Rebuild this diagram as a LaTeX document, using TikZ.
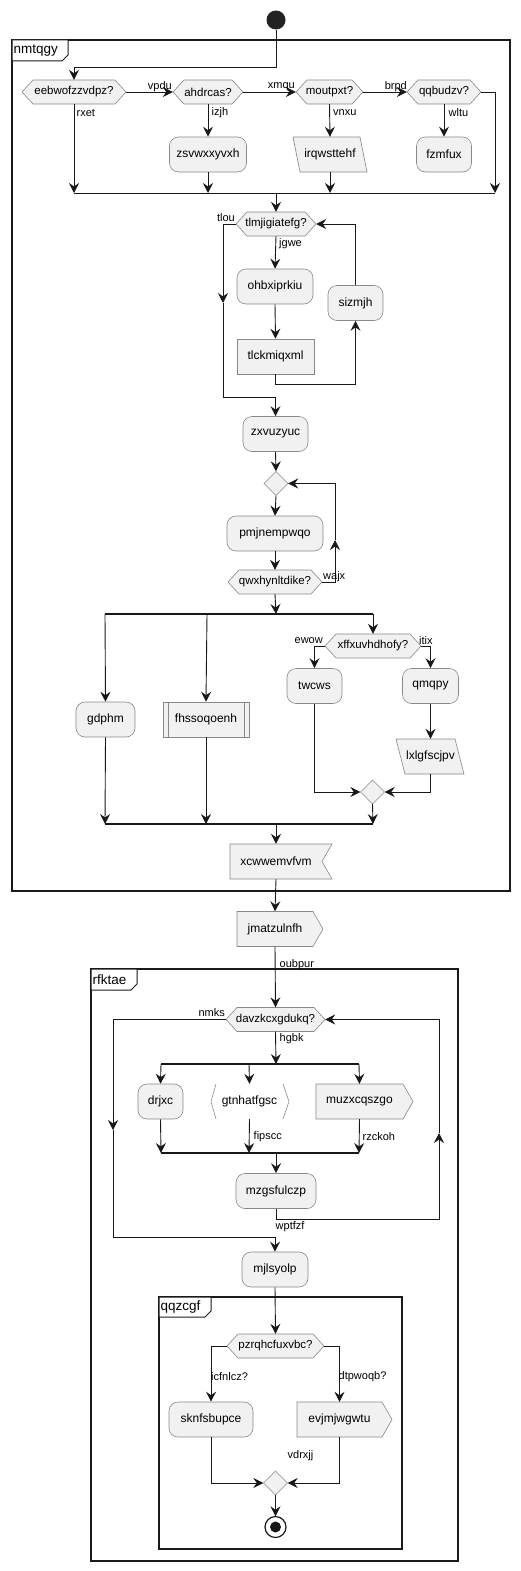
\documentclass[tikz,border=0pt]{standalone}
\usepackage{fontspec}
\setmainfont{Liberation Sans}
\usetikzlibrary{arrows.meta}
\definecolor{nfill}{HTML}{F1F1F1}
\definecolor{nline}{HTML}{888888}
\definecolor{lline}{HTML}{181818}
\definecolor{fline}{HTML}{1A1A1A}
\tikzset{
 every node/.style={font=\fontsize{11}{13}\selectfont, inner sep=0pt},
 atext/.style={font=\fontsize{12}{14}\selectfont},
 dtext/.style={font=\fontsize{11.5}{13}\selectfont},
 act/.style={atext, draw=nline, fill=nfill, rounded corners=9pt, minimum height=35pt, line width=0.6pt},
 boxn/.style={atext, draw=nline, fill=nfill, minimum height=35pt, line width=0.6pt},
 shp/.style={draw=nline, fill=nfill, line width=0.6pt},
 conn/.style={draw=lline, line width=0.9pt},
 arr/.style={conn, -{Stealth[length=10pt,width=10pt,inset=3.5pt]}},
 bar/.style={draw=lline, line width=2.5pt},
 lbl/.style={font=\fontsize{11}{13}\selectfont},
 frm/.style={draw=fline, line width=1.6pt},
 tabst/.style={draw=fline, fill=white, line width=1pt},
 ftitle/.style={font=\fontsize{13.5}{15}\selectfont, anchor=west},
}
\newcommand\hexd[5]{%
 \path[shp] ({#2-#4},#3) -- ({#2-#4+11},{#3-12}) -- ({#2+#4-11},{#3-12}) -- ({#2+#4},#3) -- ({#2+#4-11},{#3+12}) -- ({#2-#4+11},{#3+12}) -- cycle;
 \node[dtext, minimum width={2*#4}, minimum height=24] (#1) at (#2,#3) {#5};}
\newcommand\dmd[3]{%
 \path[shp] ({#2-12},#3) -- (#2,{#3-12}) -- ({#2+12},#3) -- (#2,{#3+12}) -- cycle;
 \node[minimum width=24, minimum height=24] (#1) at (#2,#3) {};}
% name, left, right, cy, depth, text
\newcommand\sendn[6]{%
 \path[shp] (#2,{#4-17.5}) -- ({#3-#5},{#4-17.5}) -- (#3,#4) -- ({#3-#5},{#4+17.5}) -- (#2,{#4+17.5}) -- cycle;
 \node[atext, minimum width={#3-#5-#2}, minimum height=35] (#1) at ({(#2+#3-#5)/2},#4) {#6};}
\begin{document}
\begin{tikzpicture}[x=1pt,y=-1pt]
\useasboundingbox (0,0) rectangle (520,1571);
% ---------- frame nmtqgy
\draw[frm] (12,40) rectangle (510,891);
\path[tabst] (12,40) -- (68,40) -- (68,55) -- (62,61) -- (12,61) -- cycle;
\node[ftitle] (t1) at (13.5,50.5) {nmtqgy};
% ---------- frame rfktae
\draw[frm] (91,969) rectangle (458,1561);
\path[tabst] (91,969) -- (137,969) -- (137,984) -- (131,990) -- (91,990) -- cycle;
\node[ftitle] (t2) at (92.5,979.5) {rfktae};
% ---------- frame qqzcgf
\draw[frm] (159,1297) rectangle (402,1549);
\path[tabst] (159,1297) -- (211,1297) -- (211,1311) -- (205,1317) -- (159,1317) -- cycle;
\node[ftitle] (t3) at (160.5,1307) {qqzcgf};

% ---------- nodes
\fill[fill={rgb,255:red,34;green,34;blue,34}] (276,20) circle (9.5);
\node[minimum size=19, circle] (start) at (276,20) {};

\hexd{d1}{74}{92}{52}{eebwofzzvdpz?}
\hexd{d2}{208}{92}{35}{ahdrcas?}
\hexd{d3}{329.5}{92}{33.5}{moutpxt?}
\hexd{d4}{444}{92}{37}{qqbudzv?}
\node[act, minimum width=77] (z1) at (208,154.5) {zsvwxxyvxh};
\path[shp] (293,137) -- (360,137) -- (367,172) -- (300,172) -- cycle;
\node[atext, minimum width=60, minimum height=35] (p1) at (330,154.5) {irqwsttehf};
\node[act, minimum width=55] (fz) at (444,154.5) {fzmfux};

\hexd{d5}{276}{224}{40}{tlmjigiatefg?}
\node[act, minimum width=76] (ob) at (275,286.5) {ohbxiprkiu};
\node[boxn, minimum width=77] (tl) at (275.5,356.5) {tlckmiqxml};
\node[act, minimum width=55] (sz) at (355.5,303) {sizmjh};
\node[act, minimum width=65] (zx) at (275.5,434) {zxvuzyuc};
\dmd{dm1}{276}{483.5}
\node[act, minimum width=96] (pm) at (275,533.5) {pmjnempwqo};
\hexd{d6}{275}{582}{47}{qwxhynltdike?}

\hexd{d7}{373}{646}{48}{xffxuvhdhofy?}
\node[act, minimum width=55] (tw) at (314.5,686) {twcws};
\node[act, minimum width=56] (qm) at (430.5,686) {qmqpy};
\path[shp] (396,739) -- (455,739) -- (464,774) -- (405,774) -- cycle;
\node[atext, minimum width=55, minimum height=35] (lx) at (430.5,756.5) {lxlgfscjpv};
\dmd{dm2}{372.5}{792}
\node[act, minimum width=59] (gd) at (105.5,719.5) {gdphm};
\node[boxn, minimum width=86] (fh) at (206,719.5) {fhssoqoenh};
\draw[nline, line width=0.6pt] (168,702) -- (168,737) (244,702) -- (244,737);
\path[shp] (230,844) -- (332,844) -- (322,861.5) -- (332,879) -- (230,879) -- cycle;
\node[atext, minimum width=80, minimum height=35] (xc) at (276,861.5) {xcwwemvfvm};

\sendn{jm}{237}{323}{929}{10}{jmatzulnfh}
\hexd{d8}{275.5}{1019.5}{49.5}{davzkcxgdukq?}
\node[act, minimum width=45] (dr) at (160.5,1101.5) {drjxc};
\draw[nline, line width=0.6pt] (216,1084) -- (211,1101.5) -- (216,1119) (283,1084) -- (289,1101.5) -- (283,1119);
\node[atext, minimum width=66, minimum height=35] (gt) at (249.5,1101.5) {gtnhatfgsc};
\sendn{mu}{316}{413}{1101.5}{10}{muzxcqszgo}
\node[act, minimum width=80] (mz) at (276,1191) {mzgsfulczp};
\node[act, minimum width=66] (mj) at (275,1269.5) {mjlsyolp};
\hexd{d9}{275.5}{1346}{48.5}{pzrqhcfuxvbc?}
\node[act, minimum width=84] (sk) at (211,1419.5) {sknfsbupce};
\sendn{ev}{297}{392}{1419.5}{10}{evjmjwgwtu}
\dmd{dm3}{275.5}{1483}
\draw[lline, line width=1.2pt, fill=white] (275.5,1527) circle (10.5);
\fill[lline] (275.5,1527) circle (5.5);
\node[minimum size=21, circle] (end) at (275.5,1527) {};

% ---------- connectors: top if chain
\draw[arr] (start.south) -- ++(0,38) -| (d1.north);
\coordinate (m1) at (276,193);
\coordinate (m1r) at (495,193);
\draw[conn] (d1.south |- m1) -- (m1r);
\draw[arr] (d1.south) -- (d1.south |- m1);
\draw[arr] (d1.east) -- (d2.west);
\draw[arr] (d2.east) -- (d3.west);
\draw[arr] (d3.east) -- (d4.west);
\draw[arr] (d2.south) -- (z1.north);
\draw[arr] (z1.south) -- (z1.south |- m1);
\draw[arr] (d3.south) -- (p1.north);
\draw[arr] (p1.south) -- (p1.south |- m1);
\draw[arr] (d4.south) -- (fz.north);
\draw[arr] (d4.east) -| (m1r);
\node[lbl, anchor=west] (lrxet) at (76.5,113) {rxet};
\node[lbl, anchor=east] (lvpdu) at (172,87) {vpdu};
\node[lbl, anchor=east] (lxmqu) at (295,87) {xmqu};
\node[lbl, anchor=east] (lbrpd) at (407,87) {brpd};
\node[lbl, anchor=west] (lizjh) at (211.5,113) {izjh};
\node[lbl, anchor=west] (lvnxu) at (333,113) {vnxu};
\node[lbl, anchor=west] (lwltu) at (448.5,113) {wltu};

% ---------- while loop 1
\draw[arr] (m1) -- (d5.north);
\draw[arr] (d5.south) -- (ob.north);
\draw[arr] (ob.south) -- (tl.north);
\draw[arr] (tl.south) -- ++(0,10) -| (sz.south);
\draw[arr] (sz.north) |- (d5.east);
\coordinate (l1) at (223,303);
\coordinate (l1b) at (223,397);
\draw[arr] (d5.west) -| (l1);
\draw[arr] (l1) -- (l1b) -| (zx.north);
\node[lbl, anchor=east] (ltlou) at (235,218) {tlou};
\node[lbl, anchor=west] (ljgwe) at (279,244) {jgwe};

% ---------- repeat loop
\draw[arr] (zx.south) -- (dm1.north);
\draw[arr] (dm1.south) -- (pm.north);
\draw[arr] (pm.south) -- (d6.north);
\coordinate (l2) at (335,540);
\draw[arr] (d6.east) -| (l2);
\draw[arr] (l2) |- (dm1.east);
\node[lbl, anchor=west] (lwajx) at (323,577) {wajx};

% ---------- fork
\coordinate (f1) at (276,614);
\coordinate (f1l) at (105,614);
\coordinate (f1m) at (207,614);
\coordinate (f1r) at (373,614);
\draw[arr] (d6.south) -- (f1);
\draw[bar] (f1l) -- (f1r);
\draw[arr] (f1l) -- (gd.north);
\draw[arr] (f1m) -- (fh.north);
\draw[arr] (f1r) -- (d7.north);
\draw[arr] (d7.west) -| (tw.north);
\draw[arr] (d7.east) -| (qm.north);
\node[lbl, anchor=east] (lewow) at (323,641) {ewow};
\node[lbl, anchor=west] (litix) at (419,641) {itix};
\draw[arr] (qm.south) -- (lx.north);
\draw[arr] (tw.south) |- (dm2.west);
\draw[arr] (lx.south) |- (dm2.east);
\coordinate (j1) at (276,824);
\coordinate (j1l) at (105,824);
\coordinate (j1r) at (373,824);
\draw[bar] (j1l) -- (j1r);
\draw[arr] (dm2.south) -- (j1r);
\draw[arr] (gd.south) -- (j1l);
\draw[arr] (fh.south) -- (fh.south |- j1);
\draw[arr] (j1) -- (xc.north);
\draw[arr] (xc.south) -- (jm.north);

% ---------- rfktae
\draw[arr] (jm.south) -- (d8.north);
\node[lbl, anchor=west] (loubpur) at (279.5,965) {oubpur};
\coordinate (f2) at (276,1064);
\coordinate (f2l) at (161,1064);
\coordinate (f2m) at (249,1064);
\coordinate (f2r) at (359,1064);
\draw[arr] (d8.south) -- (f2);
\node[lbl, anchor=west] (lhgbk) at (279.5,1039) {hgbk};
\draw[bar] (f2l) -- (f2r);
\draw[arr] (f2l) -- (dr.north);
\draw[arr] (f2m) -- (gt.north);
\draw[arr] (f2r) -- (mu.north);
\coordinate (j2) at (276,1153);
\coordinate (j2l) at (161,1153);
\coordinate (j2m) at (249,1153);
\coordinate (j2r) at (359,1153);
\draw[bar] (j2l) -- (j2r);
\draw[arr] (dr.south) -- (j2l);
\draw[arr] (gt.south) -- (j2m);
\draw[arr] (mu.south) -- (j2r);
\node[lbl, anchor=west] (lfipscc) at (253.5,1137) {fipscc};
\node[lbl, anchor=west] (lrzckoh) at (362.5,1137) {rzckoh};
\draw[arr] (j2) -- (mz.north);
\coordinate (l3) at (439,1133);
\draw[arr] (mz.south) -- ++(0,11) -| (l3);
\draw[arr] (l3) |- (d8.east);
\coordinate (l4) at (113,1130);
\coordinate (l4b) at (113,1237);
\draw[arr] (d8.west) -| (l4);
\draw[arr] (l4) -- (l4b) -| (mj.north);
\node[lbl, anchor=east] (lnmks) at (225,1013) {nmks};
\node[lbl, anchor=west] (lwptfzf) at (275.5,1227) {wptfzf};

% ---------- qqzcgf
\draw[arr] (mj.south) -- (d9.north);
\draw[arr] (d9.west) -| (sk.north);
\draw[arr] (d9.east) -| (ev.north);
\node[lbl, anchor=west] (licf) at (211,1377) {icfnlcz?};
\node[lbl, anchor=west] (ldtp) at (338.5,1377) {dtpwoqb?};
\draw[arr] (sk.south) |- (dm3.west);
\draw[arr] (ev.south) |- (dm3.east);
\node[lbl, anchor=west] (lvdr) at (287.5,1456) {vdrxjj};
\draw[arr] (dm3.south) -- (end.north);
\end{tikzpicture}
\end{document}
